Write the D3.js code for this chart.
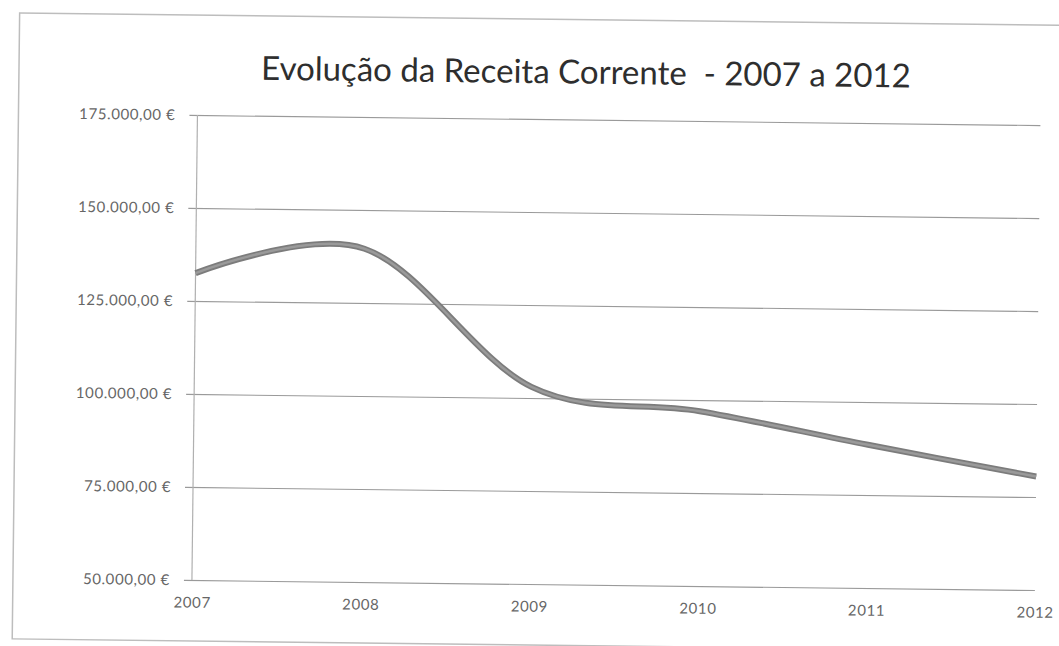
<!DOCTYPE html>
<html>
<head>
<meta charset="utf-8">
<script src="https://cdn.jsdelivr.net/npm/d3@7"></script>
<style>
  html, body { margin: 0; padding: 0; background: #fff; }
  svg { display: block; }
</style>
</head>
<body>
<svg id="chart" width="1059" height="646"></svg>
<script>
// ---- data ----
const years = [2007, 2008, 2009, 2010, 2011, 2012];
const receita = [132500, 139600, 103000, 97000, 88500, 80500];
const yTicks = [50000, 75000, 100000, 125000, 150000, 175000];
const titleText = "Evolução da Receita Corrente  - 2007 a 2012";

// ---- layout ----
const plotL = 195, plotR = 1038, plotT = 119, plotB = 584;

const svg = d3.select("#chart");
const root = svg.append("g").attr("transform", "rotate(0.68, 530, 323)");

// outer border
root.append("rect")
  .attr("x", 16).attr("y", 19)
  .attr("width", 1080).attr("height", 626)
  .attr("fill", "none").attr("stroke", "#bdbdbd").attr("stroke-width", 1.5);

const x = d3.scaleLinear().domain([2007, 2012]).range([plotL, plotR]);
const y = d3.scaleLinear().domain([50000, 175000]).range([plotB, plotT]);

const loc = d3.formatLocale({decimal: ",", thousands: ".", grouping: [3], currency: ["", " €"]});
const fmt = loc.format("$,.2f");

// y axis with gridlines
const yAxis = d3.axisLeft(y).tickValues(yTicks).tickFormat(fmt)
  .tickSize(-(plotR - plotL)).tickPadding(22);
const gy = root.append("g").attr("transform", `translate(${plotL},0)`).call(yAxis);
gy.select(".domain").remove();
gy.selectAll(".tick line")
  .attr("x1", -8)
  .attr("stroke", "#9a9a9a").attr("stroke-width", 1.2);
gy.selectAll(".tick text")
  .attr("fill", "#666").attr("font-family", "Lato, 'Open Sans', sans-serif")
  .attr("font-size", 15).attr("letter-spacing", "0.6px");

// vertical axis line
root.append("line")
  .attr("x1", plotL).attr("x2", plotL).attr("y1", plotT).attr("y2", plotB)
  .attr("stroke", "#b0b0b0").attr("stroke-width", 1.2);

// x axis labels
const xAxis = d3.axisBottom(x).tickValues(years).tickFormat(d3.format("d"))
  .tickSize(0).tickPadding(17);
const gx = root.append("g").attr("transform", `translate(0,${plotB})`).call(xAxis);
gx.select(".domain").remove();
gx.selectAll(".tick text")
  .attr("fill", "#666").attr("font-family", "Lato, 'Open Sans', sans-serif")
  .attr("font-size", 15).attr("letter-spacing", "0.6px");

// title
root.append("text")
  .attr("x", 583).attr("y", 83)
  .attr("text-anchor", "middle")
  .attr("font-family", "Lato, 'Open Sans', sans-serif")
  .attr("font-size", 33)
  .attr("fill", "#2e2e2e")
  .style("white-space", "pre")
  .text(titleText);

// line
const line = d3.line()
  .x((d, i) => x(years[i]))
  .y(d => y(d))
  .curve(d3.curveCardinal.tension(0));
root.append("path")
  .datum(receita)
  .attr("d", line)
  .attr("fill", "none")
  .attr("stroke", "#7c7c7c")
  .attr("stroke-width", 6)
  .attr("stroke-linecap", "butt");
root.append("path")
  .datum(receita)
  .attr("d", line)
  .attr("fill", "none")
  .attr("stroke", "#9a9a9a")
  .attr("stroke-width", 2.5);
</script>
</body>
</html>
